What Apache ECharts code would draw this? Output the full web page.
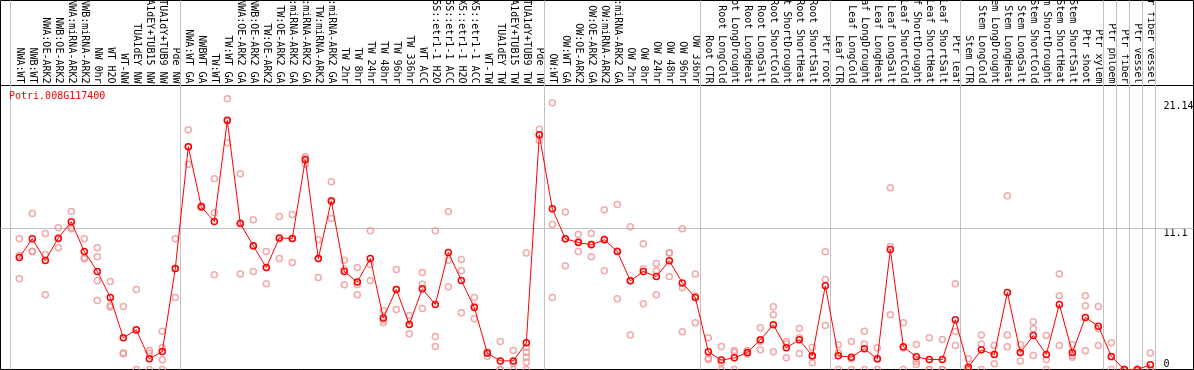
<!DOCTYPE html>
<html><head><meta charset="utf-8">
<script src="https://cdn.jsdelivr.net/npm/echarts@6/dist/echarts.min.js"></script>
<style>html,body{margin:0;padding:0;background:#fff}#c{width:1194px;height:370px}</style>
</head><body><div id="c"></div><script>
const chartTitle = 'Potri.008G117400';
const categories = [
 'NWA:WT','NWB:WT','NWA:OE-ARK2','NWB:OE-ARK2','NWA:miRNA-ARK2','NWB:miRNA-ARK2','NW 0hr','WT H2O','WT-NW','TUA1dEY NW','TUA1dEY+TUB15 NW','TUA1dY+TUB9 NW','Pde NW',
 'NWA:WT GA','NWBWT GA','TW:WT','TW:WT GA','NWA:OE-ARK2 GA','NWB:OE-ARK2 GA','TW:OE-ARK2','TW:OE-ARK2 GA','NWA:miRNA-ARK2 GA','NWB:miRNA-ARK2 GA','TW:miRNA-ARK2','TW:miRNA-ARK2 GA',
 'TW 2hr','TW 8hr','TW 24hr','TW 48hr','TW 96hr','TW 336hr','WT ACC','35S::etr1-1 H2O','35S::etr1-1 ACC','LMX5::etr1-1 H2O','LMX5::etr1-1 ACC','WT-TW','TUA1dEY TW','TUA1dEY+TUB15 TW','TUA1dY+TUB9 TW','Pde TW',
 'OW:WT','OW:WT GA','OW:OE-ARK2','OW:OE-ARK2 GA','OW:miRNA-ARK2','OW:miRNA-ARK2 GA','OW 2hr','OW 8hr','OW 24hr','OW 48hr','OW 96hr','OW 336hr',
 'Root CTR','Root LongCold','Root LongDrought','Root LongHeat','Root LongSalt','Root ShortCold','Root ShortDrought','Root ShortHeat','Root ShortSalt','Ptr root',
 'Leaf CTR','Leaf LongCold','Leaf LongDrought','Leaf LongHeat','Leaf LongSalt','Leaf ShortCold','Leaf ShortDrought','Leaf ShortHeat','Leaf ShortSalt','Ptr leaf',
 'Stem CTR','Stem LongCold','Stem LongDrought','Stem LongHeat','Stem LongSalt','Stem ShortCold','Stem ShortDrought','Stem ShortHeat','Stem ShortSalt','Ptr shoot','Ptr xylem',
 'Ptr phloem','Ptr fiber','Ptr vessel','Ptr fiber vessel'
];
const means = [
 8.83,10.31,8.60,10.36,11.65,9.31,7.73,5.68,2.50,3.13,0.84,1.42,7.97,
 17.56,12.83,11.67,19.64,11.51,9.75,8.04,10.38,10.33,16.54,8.75,13.30,
 7.73,6.91,8.75,4.07,6.31,3.55,6.36,5.13,9.23,7.02,4.89,1.29,0.68,0.68,2.10,18.51,
 12.67,10.31,10.02,9.83,10.23,9.31,6.99,7.73,7.33,8.57,6.83,5.68,
 1.39,0.74,0.92,1.34,2.34,3.52,1.71,2.34,1.08,6.60,
 1.08,0.97,1.63,0.84,9.46,1.79,1.00,0.79,0.79,3.92,
 0.18,1.55,1.18,6.07,1.34,2.68,1.18,5.13,1.34,4.10,3.42,
 1.03,0,0,0.37
];
const replicates = [
 [10.31,8.99,7.15],[12.30,9.31,9.31],[10.73,9.07,5.89],[11.17,9.60,10.31],[12.46,11.17,11.09],[10.31,8.81,8.73],
 [9.60,8.89,6.99,5.44],[6.94,5.05,4.92],[4.97,1.31,1.24],[6.31,3.08,0],[1.50,1.29,0],[3.02,1.71,0.76,0],[10.31,7.97,5.68],
 [18.90,17.59,16.19],[12.9,12.8,12.8],[15.04,12.36,7.47],[21.35,19.69,17.88],[15.43,11.56,7.54],[11.80,9.72,7.73],
 [9.31,8.05,6.76],[12.07,10.32,8.75],[12.22,10.33,8.44],[16.80,16.63,16.19],[10.23,8.76,7.26],[14.80,13.2,11.91],
 [8.62,7.9,6.68],[8.04,6.70,5.89],[10.94,8.28,7.02],[4.65,3.9,3.68],[7.89,6.3,4.73],[4.26,3.57,2.81],[7.65,6.73,4.81],
 [10.94,2.60,1.81],[12.46,8.62,6.52],[8.68,7.78,4.47],[5.68,5.0,4.00],[1.4,1.36,1.05],[2.21,0,0],[1.50,0.5,0],
 [9.18,1.76,1.37,0.97,0.58,0],[18.95,18.5,18.06],
 [21.03,11.44,5.68],[12.43,10.3,8.18],[10.65,10.1,9.31],[10.73,9.9,8.89],[12.59,10.3,7.78],[13.01,9.35,5.57],
 [11.25,7.0,2.73],[9.91,7.94,5.18],[8.36,7.78,5.89],[9.20,9.18,7.33],[11.09,6.44,2.97],[7.54,5.8,3.68],
 [2.50,0.89,0.79],[1.81,0.53,0],[1.50,1.37,0],[1.5,1.3,1.2],[3.29,2.2,1.55],[4.94,4.31,1.39],[2.21,2.02,0.92],
 [3.23,2.50,1.26],[1.74,1.0,0.53],[9.28,7.10,3.47],
 [1.95,1.3,0],[2.21,0.84,0],[3.02,2.02,0],[1.71,0.8,0],[14.33,9.70,4.31],[3.68,1.7,0],[1.97,0.63,0.39],
 [2.50,0,0],[2.37,0,0],[6.76,3.00,1.89],
 [0.84,0,0],[2.73,2.02,0],[1.89,1.2,0.45],[13.70,2.73,1.79],[1.97,1.35,0.68],[3.76,3.21,1.10],[2.68,0.79,0],
 [7.54,5.81,1.89],[1.95,1.1,0.97],[5.81,5.02,1.47],[4.97,3.21,1.89],
 [2.10,1.0,0],[0,0,0],[0,0,0],[1.31,0,0]
];
const yTopLabels = [11.1, 21.14];
const yBottomLabels = [0];
const gridLineValue = 11.1;
const groupEnds = [12, 40, 52, 62, 72, 83, 84, 85, 86, 87];

const FONT = "'DejaVu Sans Mono', monospace";
const separators = [-0.7].concat(groupEnds.map(k => k + 0.4));
const repData = [];
replicates.forEach((arr, i) => arr.forEach(v => repData.push([i, v])));
const meanData = means.map((v, i) => [i, v]);

const chart = echarts.init(document.getElementById('c'), null, {renderer: 'canvas'});
const yBase = {type: 'value', min: 0, max: 29.1, position: 'right',
  axisLine: {show: false}, axisTick: {show: false}, splitLine: {show: false}};
chart.setOption({
  animation: false,
  backgroundColor: '#fff',
  title: {text: chartTitle, left: 9, top: 91, padding: 0,
    textStyle: {color: '#f00', fontSize: 10, fontWeight: 'normal', fontFamily: FONT}},
  grid: {left: 0.5, right: 0.5, top: 0.5, bottom: 0.5, show: true, containLabel: false,
    outerBoundsMode: 'none',
    borderColor: '#000', borderWidth: 1, backgroundColor: '#fff'},
  xAxis: {type: 'value', min: -1.446, max: 90.32, position: 'top', offset: -85,
    axisLine: {show: true, onZero: false, lineStyle: {color: '#000', width: 1}},
    axisTick: {show: false}, splitLine: {show: false},
    axisLabel: {customValues: categories.map((_, i) => i), formatter: v => categories[Math.round(v)],
      rotate: 90, margin: 2, fontSize: 10, fontFamily: FONT, color: '#000'}},
  yAxis: [
    Object.assign({}, yBase, {axisLabel: {customValues: yTopLabels, inside: true, align: 'left',
      verticalAlign: 'top', margin: 30, fontSize: 10, fontFamily: FONT, color: '#000',
      formatter: v => String(v)}}),
    Object.assign({}, yBase, {axisLabel: {customValues: yBottomLabels, inside: true, align: 'left',
      verticalAlign: 'bottom', margin: 30, fontSize: 10, fontFamily: FONT, color: '#000',
      formatter: v => String(v)}})
  ],
  series: [
    {type: 'scatter', data: repData, symbol: 'circle', symbolSize: 6, z: 2, silent: true,
      itemStyle: {color: 'rgba(0,0,0,0)', borderColor: '#ee9494', borderWidth: 1.5},
      markLine: {silent: true, symbol: ['none', 'none'], label: {show: false}, z: 1,
        lineStyle: {color: '#c0c0c0', width: 1, type: 'solid'},
        data: separators.map(s => ({xAxis: s})).concat([{yAxis: gridLineValue}])}},
    {type: 'line', data: meanData, symbol: 'circle', symbolSize: 6, showAllSymbol: true, clip: false,
      z: 3, silent: true,
      lineStyle: {color: '#f00', width: 1},
      itemStyle: {color: 'rgba(0,0,0,0)', borderColor: '#f00', borderWidth: 1.5}}
  ]
});
</script></body></html>
